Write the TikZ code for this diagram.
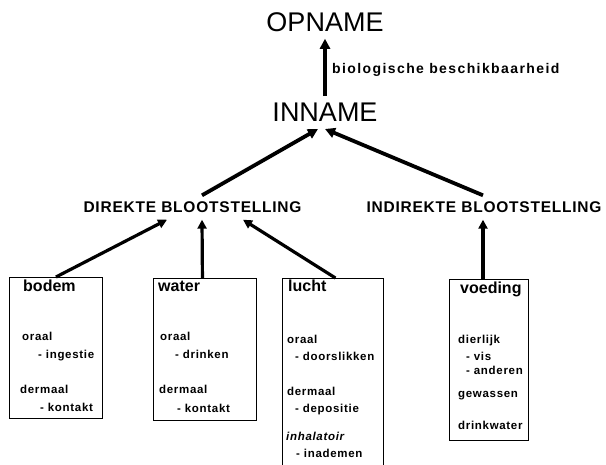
\documentclass[tikz,border=0pt]{standalone}
\usepackage{fontspec}
\setmainfont{Liberation Sans}
\newfontfamily\spacedfont[LetterSpace=6]{Liberation Sans}
\newfontfamily\headfont[LetterSpace=5]{Liberation Sans}
\newfontfamily\labelfont[LetterSpace=10]{Liberation Sans}
\usetikzlibrary{arrows.meta}
\begin{document}
\begin{tikzpicture}[x=1pt,y=-1pt,
  big/.style={font=\fontsize{27}{27}\selectfont, inner xsep=0pt, inner ysep=7pt},
  head/.style={font=\headfont\bfseries\fontsize{15.5}{15.5}\selectfont, inner xsep=0pt, inner ysep=6.5pt},
  lab/.style={font=\labelfont\bfseries\fontsize{14}{14}\selectfont, anchor=base west, inner sep=0pt},
  title/.style={font=\bfseries\fontsize{16}{16}\selectfont, anchor=base west, inner sep=0pt},
  item/.style={font=\spacedfont\bfseries\fontsize{11.5}{11.5}\selectfont, anchor=base west, inner sep=0pt},
  boxst/.style={draw, line width=0.9pt, anchor=north west, inner sep=0pt},
  arr/.style={line width=3.8pt, -{Triangle[length=10pt,width=10pt]}},
  arrs/.style={line width=3.2pt, -{Triangle[length=9pt,width=9pt]}}]
\useasboundingbox (0,0) rectangle (606,464);

% top levels
\node[big] (op) at (325,22) {OPNAME};
\node[big] (in) at (325,112.5) {INNAME};
\node[lab] (bio) at (332,73) {biologische beschikbaarheid};
\node[head] (dir) at (192.5,207.5) {DIREKTE BLOOTSTELLING};
\node[head] (indir) at (484,207.5) {INDIREKTE BLOOTSTELLING};

\draw[arr] (in.north) -- (op.south);
\draw[arr] ([xshift=9.5pt]dir.north) -- ([xshift=-7pt]in.south);
\draw[arr] ([xshift=-1pt]indir.north) -- (in.south);

% boxes
\node[boxst, minimum width=93pt, minimum height=141pt] (bodem) at (9,277) {};
\node[boxst, minimum width=103pt, minimum height=142pt] (water) at (153,278) {};
\node[boxst, minimum width=101pt, minimum height=200pt] (lucht) at (282,278) {};
\node[boxst, minimum width=79pt, minimum height=161pt] (voeding) at (449,279) {};

\draw[arrs] (bodem.north) -- ([xshift=-25.5pt]dir.south);
\draw[arrs] ([xshift=-2.5pt]water.north) -- ([xshift=9.5pt]dir.south);
\draw[arrs] ([xshift=2.5pt]lucht.north) -- ([xshift=50.5pt]dir.south);
\draw[arrs] ([xshift=-1pt]voeding.north -| indir.south) -- ([xshift=-1pt]indir.south);

% bodem
\node[title] (t1) at (23,291) {bodem};
\node[item] (b1) at (22,340) {oraal};
\node[item] (b2) at (38,358) {- ingestie};
\node[item] (b3) at (20,393) {dermaal};
\node[item] (b4) at (40,411.5) {- kontakt};

% water
\node[title] (t2) at (158,291) {water};
\node[item] (w1) at (160,340) {oraal};
\node[item] (w2) at (175,358) {- drinken};
\node[item] (w3) at (159,393) {dermaal};
\node[item] (w4) at (177,412) {- kontakt};

% lucht
\node[title] (t3) at (288,291.5) {lucht};
\node[item] (l1) at (287,343) {oraal};
\node[item] (l2) at (295,360) {- doorslikken};
\node[item] (l3) at (287,395.5) {dermaal};
\node[item] (l4) at (295,412) {- depositie};
\node[item, font=\spacedfont\bfseries\itshape\fontsize{11.5}{11.5}\selectfont] (l5) at (286,440) {inhalatoir};
\node[item] (l6) at (296,457) {- inademen};

% voeding
\node[title] (t4) at (460,293.5) {voeding};
\node[item] (v1) at (458,343) {dierlijk};
\node[item] (v2) at (466,360) {- vis};
\node[item] (v3) at (466,374) {- anderen};
\node[item] (v4) at (458,397) {gewassen};
\node[item] (v5) at (458,429) {drinkwater};
\end{tikzpicture}
\end{document}
